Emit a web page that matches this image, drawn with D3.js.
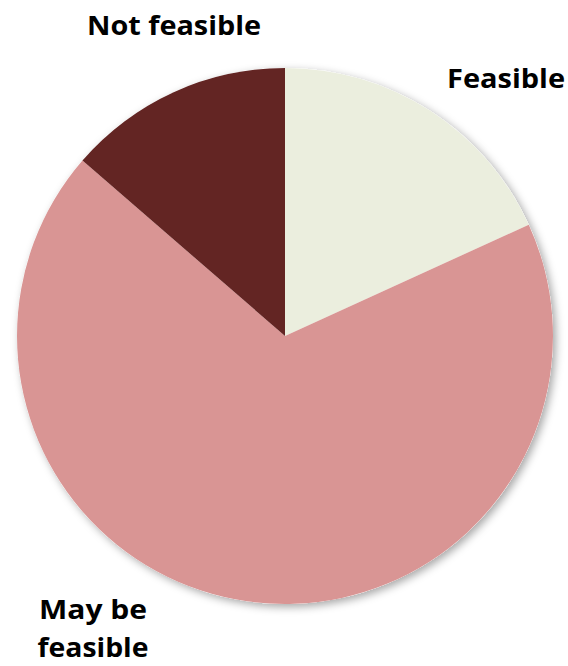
<!DOCTYPE html>
<html><head><meta charset="utf-8">
<script src="https://cdn.jsdelivr.net/npm/d3@7/dist/d3.min.js"></script>
<style>html,body{margin:0;padding:0;background:#fff;}</style>
</head><body>
<svg id="c" width="568" height="666"></svg>
<script>
const categories = ["Feasible", "May be feasible", "Not feasible"];
const values = [4, 15, 3];
const colors = ["#EBEEDE", "#D99594", "#632523"];

const svg = d3.select("#c");
const cx = 285, cy = 336, r = 268;

const defs = svg.append("defs");
const f = defs.append("filter").attr("id","sh").attr("x","-10%").attr("y","-10%").attr("width","120%").attr("height","120%");
f.append("feDropShadow").attr("dx",3).attr("dy",3).attr("stdDeviation",4).attr("flood-color","#000").attr("flood-opacity",0.35);

const pie = d3.pie().sort(null).value(d => d)(values);
const arc = d3.arc().innerRadius(0).outerRadius(r);

const g = svg.append("g").attr("transform", `translate(${cx},${cy})`);
g.append("circle").attr("r", r).attr("fill", "#fff").attr("filter","url(#sh)");
g.selectAll("path").data(pie).join("path")
  .attr("d", arc)
  .attr("fill", (d,i) => colors[i]);

const font = "'Open Sans', sans-serif";
const labels = [
  {lines:["Feasible"], x:506, y:[88], w:[118]},
  {lines:["May be","feasible"], x:93, y:[619,657], w:[108,111]},
  {lines:["Not feasible"], x:174, y:[35], w:[174]}
];
labels.forEach(l => {
  l.lines.forEach((t,j) => {
    svg.append("text").attr("x", l.x).attr("y", l.y[j])
      .attr("text-anchor","middle")
      .attr("font-family", font).attr("font-weight", 700).attr("font-size", 27)
      .attr("textLength", l.w[j]).attr("lengthAdjust","spacingAndGlyphs")
      .attr("fill","#000").text(t);
  });
});
</script>
</body></html>
